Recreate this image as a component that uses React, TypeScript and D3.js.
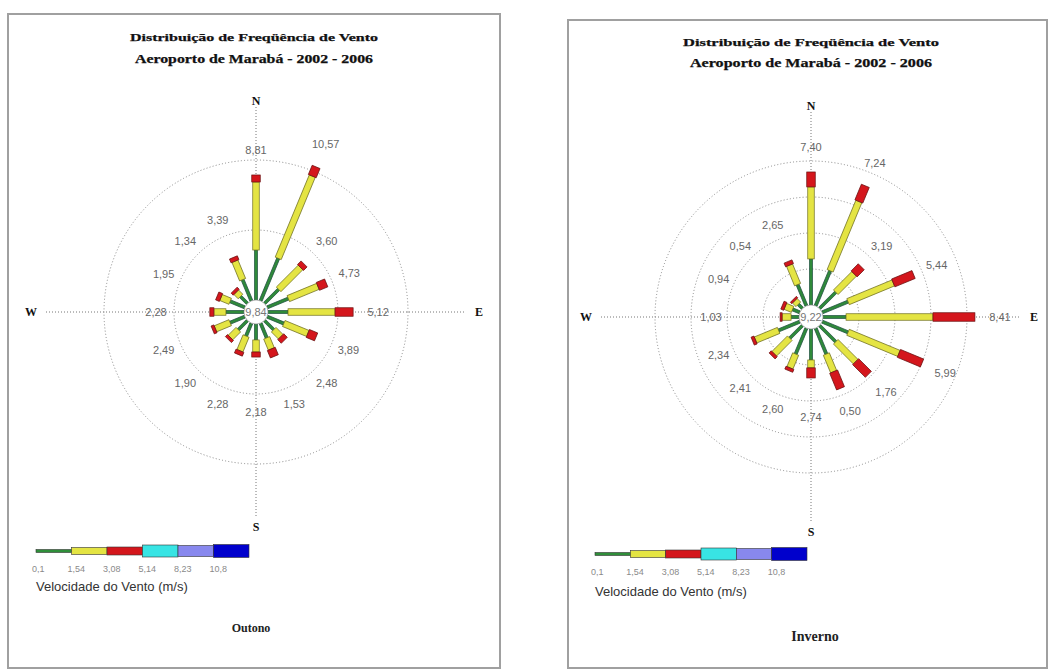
import React from "react";
import * as d3 from "d3";

// ---------- DATA ----------
const directions = ["N","NNE","NE","ENE","E","ESE","SE","SSE","S","SSW","SW","WSW","W","WNW","NW","NNW"];

// Outono (autumn) – frequency (%) per speed class
const outonoGreen  = [3.57, 3.29, 1.43, 1.64, 1.43, 1.29, 0.93, 1.14, 1.14, 1.00, 0.93, 1.14, 1.29, 1.14, 0.71, 1.64];
const outonoYellow = [4.86, 6.36, 2.21, 2.29, 3.36, 1.86, 0.71, 0.86, 0.86, 1.14, 0.79, 1.14, 0.86, 0.71, 0.43, 1.43];
const outonoRed    = [0.50, 0.71, 0.36, 0.64, 1.29, 0.64, 0.36, 0.57, 0.36, 0.29, 0.21, 0.21, 0.29, 0.29, 0.21, 0.29];
const outonoLabels = ["8,81","10,57","3,60","4,73","5,12","3,89","2,48","1,53","2,18","2,28","1,90","2,49","2,28","1,95","1,34","3,39"];
const outonoCalm = "9,84";

// Inverno (winter)
const invernoGreen  = [2.56, 2.11, 1.28, 1.56, 1.28, 1.56, 1.28, 1.56, 1.72, 1.56, 1.00, 1.28, 0.44, 0.44, 0.33, 1.28];
const invernoYellow = [4.00, 4.17, 1.44, 2.72, 4.83, 3.06, 1.56, 1.06, 0.44, 0.83, 1.22, 1.39, 0.50, 0.44, 0.28, 1.17];
const invernoRed    = [0.83, 0.94, 0.56, 1.22, 2.33, 1.39, 1.00, 1.00, 0.56, 0.17, 0.17, 0.17, 0.11, 0.17, 0.11, 0.22];
const invernoLabels = ["7,40","7,24","3,19","5,44","8,41","5,99","1,76","0,50","2,74","2,60","2,41","2,34","1,03","0,94","0,54","2,65"];
const invernoCalm = "9,22";

const legendTicks = ["0,1","1,54","3,08","5,14","8,23","10,8"];
const legendColors = ["#2f8f3a","#e4e443","#d4161c","#38e4e4","#8888ee","#0000cc"];
const legendHeights = [3, 7, 8, 12, 11, 13];

const titleLine1 = "Distribuição de Freqüência de Vento";
const titleLine2 = "Aeroporto de Marabá - 2002 - 2006";

// ---------- COMPONENTS ----------
const segColors = ["#2f8a3a", "#e4e443", "#d4161c"];
const segStroke = ["#1f5040", "#6f6f20", "#6a1010"];
const segWidths = [3, 6.5, 8.5];

type PanelProps = {
  cx: number; cy: number; maxV: number; maxR: number; rings: number[];
  green: number[]; yellow: number[]; red: number[]; labels: string[]; calm: string;
  frame: { x: number; y: number; w: number; h: number };
  titleX: number; titleY1: number; titleY2: number; title1W: number; title2W: number;
  legX: number; legY: number; legW: number; velY: number;
  footer: string; footX: number; footY: number; footSize: number;
};

function Panel(p: PanelProps) {
  const calmR = 12;
  const r = d3.scaleLinear().domain([0, p.maxV]).range([calmR, p.maxR]);
  const ang = d3.scaleLinear().domain([0, directions.length]).range([0, 360]);
  const axisLen = 205;
  const segW = p.legW / legendColors.length;

  return (
    <g>
      <rect x={p.frame.x} y={p.frame.y} width={p.frame.w} height={p.frame.h}
        fill="#fff" stroke="#a0a0a0" strokeWidth={2} />
      <text x={p.titleX} y={p.titleY1} textAnchor="middle" fontFamily="'Liberation Serif', serif"
        fontWeight="bold" fontSize={11} fill="#111" stroke="#111" strokeWidth={0.25}
        textLength={p.title1W} lengthAdjust="spacingAndGlyphs">{titleLine1}</text>
      <text x={p.titleX} y={p.titleY2} textAnchor="middle" fontFamily="'Liberation Serif', serif"
        fontWeight="bold" fontSize={12} fill="#111" stroke="#111" strokeWidth={0.25}
        textLength={p.title2W} lengthAdjust="spacingAndGlyphs">{titleLine2}</text>

      <g transform={`translate(${p.cx},${p.cy})`}>
        {/* axes */}
        <line x1={0} y1={-axisLen} x2={0} y2={axisLen} stroke="#777" strokeWidth={1} strokeDasharray="1,2" />
        <line x1={-axisLen - 5} y1={0} x2={axisLen + 5} y2={0} stroke="#777" strokeWidth={1} strokeDasharray="1,2" />
        {p.rings.map((v) => (
          <circle key={v} r={r(v)} fill="none" stroke="#888" strokeWidth={1} strokeDasharray="1,2.2" />
        ))}
        {/* cardinal letters */}
        {[["N", 0, -axisLen - 6], ["S", 0, axisLen + 10], ["E", axisLen + 18, 0], ["W", -axisLen - 20, 0]].map(([t, x, y]) => (
          <text key={t as string} x={x as number} y={y as number} textAnchor="middle" dominantBaseline="central"
            fontFamily="'Liberation Serif', serif" fontWeight="bold" fontSize={12} fill="#111">{t}</text>
        ))}
        {/* bars */}
        {directions.map((d, i) => {
          const vals = [p.green[i], p.yellow[i], p.red[i]];
          const cum = d3.cumsum(vals);
          return (
            <g key={d} transform={`rotate(${ang(i)})`}>
              {vals.map((v, j) => {
                const r0 = r(j === 0 ? 0 : cum[j - 1]);
                const r1 = r(cum[j]);
                return (
                  <rect key={j} x={-segWidths[j] / 2} y={-r1} width={segWidths[j]} height={Math.max(r1 - r0, 0.5)}
                    fill={segColors[j]} stroke={segStroke[j]} strokeWidth={0.7} />
                );
              })}
            </g>
          );
        })}
        <circle r={calmR} fill="#fff" stroke="#999" strokeWidth={0.7} />
        <text x={0} y={0} textAnchor="middle" dominantBaseline="central" fontFamily="Arial, 'Liberation Sans', sans-serif"
          fontSize={11} fill="#777">{p.calm}</text>
        {/* direction labels */}
        {directions.map((d, i) => {
          const total = p.green[i] + p.yellow[i] + p.red[i];
          const lr = Math.max(r(total) + 25, 100);
          const a = (ang(i) * Math.PI) / 180;
          return (
            <text key={d} x={lr * Math.sin(a)} y={-lr * Math.cos(a)} textAnchor="middle" dominantBaseline="central"
              fontFamily="Arial, 'Liberation Sans', sans-serif" fontSize={11} fill="#666">{p.labels[i]}</text>
          );
        })}
      </g>

      {/* legend */}
      {legendColors.map((c, i) => (
        <rect key={c} x={p.legX + i * segW} y={p.legY - legendHeights[i] / 2} width={segW} height={legendHeights[i]}
          fill={c} stroke="#333" strokeWidth={0.6} />
      ))}
      {legendTicks.map((t, i) => (
        <text key={t} x={p.legX + i * segW - 4} y={p.legY + 21} fontFamily="Arial, 'Liberation Sans', sans-serif"
          fontSize={9} fill="#8a8a8a">{t}</text>
      ))}
      <text x={p.legX} y={p.velY} fontFamily="Arial, 'Liberation Sans', sans-serif" fontSize={13} fill="#333">
        Velocidade do Vento (m/s)
      </text>
      <text x={p.footX} y={p.footY} textAnchor="middle" fontFamily="'Liberation Serif', serif" fontWeight="bold"
        fontSize={p.footSize} fill="#222">{p.footer}</text>
    </g>
  );
}

export default function App() {
  return (
    <svg width={1050} height={670} style={{ position: "absolute", left: 0, top: 0, background: "#fff" }}>
      <Panel cx={256} cy={312} maxV={10} maxR={152} rings={[5, 10]}
        green={outonoGreen} yellow={outonoYellow} red={outonoRed} labels={outonoLabels} calm={outonoCalm}
        frame={{ x: 8, y: 14, w: 492, h: 654 }}
        titleX={254} titleY1={41} titleY2={63} title1W={248} title2W={238}
        legX={36} legY={551} legW={213} velY={591}
        footer="Outono" footX={251} footY={632} footSize={12} />
      <Panel cx={811} cy={317} maxV={8} maxR={156} rings={[2, 4, 6, 8]}
        green={invernoGreen} yellow={invernoYellow} red={invernoRed} labels={invernoLabels} calm={invernoCalm}
        frame={{ x: 568, y: 20, w: 479, h: 648 }}
        titleX={811} titleY1={46} titleY2={67} title1W={256} title2W={242}
        legX={595} legY={554} legW={212} velY={596}
        footer="Inverno" footX={815} footY={641} footSize={14} />
    </svg>
  );
}
